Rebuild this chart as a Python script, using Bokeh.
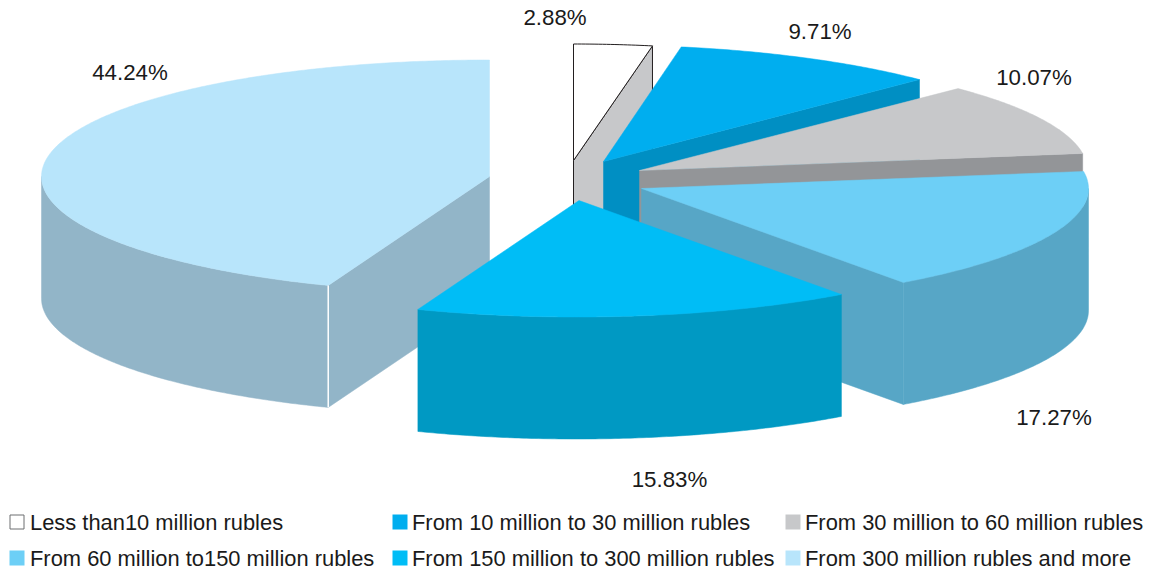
import numpy as np
from bokeh.core.properties import value
from bokeh.embed import file_html
from bokeh.models import Range1d
from bokeh.plotting import figure
from bokeh.resources import INLINE

# Portfolio shares by size band, clockwise from twelve o'clock
categories = [
    "Less than10 million rubles",
    "From 10 million to 30 million rubles",
    "From 30 million to 60 million rubles",
    "From 60 million to150 million rubles",
    "From 150 million to 300 million rubles",
    "From 300 million rubles and more",
]
shares = [2.88, 9.71, 10.07, 17.27, 15.83, 44.24]

top_colors = ["#ffffff", "#00aeef", "#c7c8ca", "#6dcff6", "#00bdf6", "#b8e5fb"]
side_colors = ["#c7c8ca", "#008fc3", "#939598", "#57a6c6", "#0099c3", "#92b5c8"]
legend_colors = ["#ffffff", "#00aeef", "#c7c8ca", "#6dcff6", "#00bdf6", "#b8e5fb"]

# Pie projection, the pulled-out apex of every slice and small rim corrections
RX, RY, DEPTH = 448, 116.5, 122
apexes = [(573, 160), (603, 161), (639, 170), (641, 188), (578.5, 200), (489, 176)]
rim_dx = [0, -1.5, 0, -1, -2.5, 0]
rim_pow = [1.012, 1.01, 1.0, 1.015, 1.0, 0.984]
label_pos = [(554.5, 16.5), (819.5, 30.5), (1033.5, 77), (1053.5, 416.5), (669, 478.5), (129.5, 71.5)]

W, H = 1154, 571
p = figure(width=W, height=H, output_backend="svg", toolbar_location=None,
           x_range=Range1d(0, W), y_range=Range1d(H, 0), min_border=0)
p.axis.visible = False
p.grid.visible = False
p.outline_line_color = None
p.background_fill_color = "#ffffff"
p.border_fill_color = "#ffffff"


def rim(i, a0, a1, shift=0):
    cx, cy = apexes[i]
    t = np.radians(np.linspace(a0, a1, max(int(abs(a1 - a0)) * 2, 2)))
    s = np.sin(t)
    x = cx + rim_dx[i] + RX * np.sign(s) * np.abs(s) ** rim_pow[i]
    return x, cy - RY * np.cos(t) + shift


edges = np.concatenate([[0], np.cumsum(shares)]) / sum(shares) * 360

# Back slices first, the front slice last so that it covers its neighbours
draw_order = [0, 1, 2, 3, 5, 4]
for i in draw_order:
    a0, a1 = edges[i], edges[i + 1]
    cx, cy = apexes[i]
    side = side_colors[i]
    outline = "#231f20" if i == 0 else side

    # Cut faces that turn towards the viewer
    for ang, visible in ((a1, 0 < a1 < 180), (a0, 180 < a0 < 360)):
        if visible:
            ex, ey = rim(i, ang, ang + 1)
            ex, ey = ex[0], ey[0]
            p.patch([cx, ex, ex, cx], [cy, ey, ey + DEPTH, cy + DEPTH],
                    fill_color=side, line_color=outline, line_width=1 if i == 0 else 0.5)

    # Outer wall on the near half of the ellipse
    w0, w1 = max(a0, 90), min(a1, 270)
    if w1 > w0:
        x, y = rim(i, w0, w1)
        p.patch(np.r_[x, x[::-1]], np.r_[y, y[::-1] + DEPTH],
                fill_color=side, line_color=side, line_width=0.5)

    # Top surface
    x, y = rim(i, a0, a1)
    px, py = np.r_[cx, x], np.r_[cy, y]
    if i == 0:
        p.patch(px, py, fill_color="#ffffff", line_color="#231f20", line_width=1)
    else:
        p.patch(px, py, fill_color=top_colors[i], line_color=top_colors[i], line_width=0.5)

    # Light seam where the largest slice's face meets its wall
    if i == 5:
        ex, ey = rim(i, a0, a0 + 1)
        p.line([ex[0], ex[0]], [ey[0], ey[0] + DEPTH], line_color="#ffffff", line_width=1.5)

# Percentage labels
p.text([q[0] for q in label_pos], [q[1] for q in label_pos],
       text=[f"{s:.2f}%" for s in shares],
       text_font=value("Liberation Sans"), text_font_size="22.3px",
       text_color="#1a1a1a", text_align="center", text_baseline="middle")

# Legend, two rows of three
col_sq = [9, 392, 785]
col_tx = [29.5, 411.5, 804.5]
row_y = [521.5, 557.5]
for n, name in enumerate(categories):
    c, r = n % 3, n // 3
    if n == 0:
        p.rect([col_sq[c] + 7.5], [row_y[r]], width=14, height=14,
               fill_color="#ffffff", line_color="#6d6e71", line_width=1)
    else:
        p.rect([col_sq[c] + 7.5], [row_y[r]], width=15, height=15,
               fill_color=legend_colors[n], line_color=None)
    p.text([col_tx[c]], [row_y[r]], text=[name],
           text_font=value("Liberation Sans"), text_font_size="21.9px",
           text_color="#1a1a1a", text_align="left", text_baseline="middle")

open("out.html", "w").write(file_html(p, INLINE))
